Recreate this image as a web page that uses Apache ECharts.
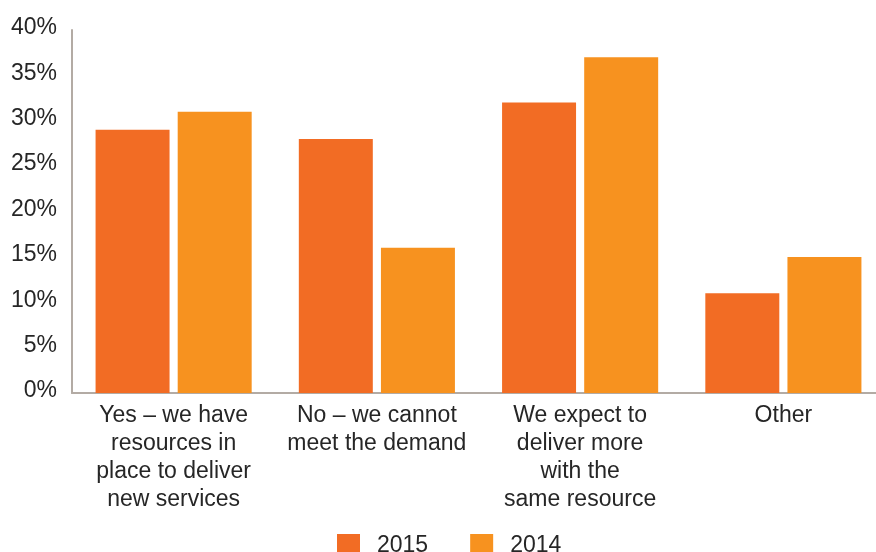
<!DOCTYPE html>
<html>
<head>
<meta charset="utf-8">
<script src="https://cdn.jsdelivr.net/npm/echarts@6/dist/echarts.min.js"></script>
<style>
  html, body { margin: 0; padding: 0; background: #ffffff; }
  #chart { width: 876px; height: 552px; }
</style>
</head>
<body>
<div id="chart"></div>
<script>
// Survey answers shown along the x axis
const categories = [
  'Yes \u2013 we have\nresources in\nplace to deliver\nnew services',
  'No \u2013 we cannot\nmeet the demand',
  'We expect to\ndeliver more\nwith the\nsame resource',
  'Other'
];
// Share of respondents (%) per year
const values2015 = [29, 28, 32, 11];
const values2014 = [31, 16, 37, 15];
// Y axis range and step (%)
const yMin = 0;
const yMax = 40;
const yStep = 5;

const FONT = '"Liberation Sans", Arial, Helvetica, sans-serif';
const TEXT = '#262626';
const chart = echarts.init(document.getElementById('chart'), null, { renderer: 'canvas' });

chart.setOption({
  animation: false,
  backgroundColor: '#ffffff',
  textStyle: { fontFamily: FONT },
  grid: {
    left: 72, width: 813, top: 30, height: 363,
    containLabel: false,
    outerBoundsMode: 'none'
  },
  legend: {
    top: 529,
    left: 332,
    itemWidth: 23,
    itemHeight: 23,
    itemGap: 42,
    icon: 'rect',
    textStyle: { fontFamily: FONT, fontSize: 23, color: TEXT, padding: [0, 0, 0, 12] },
    data: ['2015', '2014']
  },
  xAxis: {
    type: 'category',
    data: categories,
    axisLine: { show: true, lineStyle: { color: '#b3aba4', width: 2 } },
    axisTick: { show: false },
    axisLabel: {
      interval: 0,
      margin: 9,
      fontFamily: FONT,
      fontSize: 23,
      lineHeight: 28,
      color: TEXT,
      align: 'center'
    }
  },
  yAxis: {
    type: 'value',
    min: yMin,
    max: yMax,
    interval: yStep,
    axisLine: { show: true, lineStyle: { color: '#b3aba4', width: 2 } },
    axisTick: { show: false },
    splitLine: { show: false },
    axisLabel: {
      margin: 15,
      fontFamily: FONT,
      fontSize: 23,
      color: TEXT,
      verticalAlign: 'bottom',
      lineHeight: 4,
      formatter: '{value}%'
    }
  },
  series: [
    {
      name: '2015',
      type: 'bar',
      data: values2015,
      barWidth: '36.4%',
      barGap: '11%',
      itemStyle: { color: '#f26c24' }
    },
    {
      name: '2014',
      type: 'bar',
      data: values2014,
      barWidth: '36.4%',
      itemStyle: { color: '#f7921f' }
    }
  ]
});
</script>
</body>
</html>
